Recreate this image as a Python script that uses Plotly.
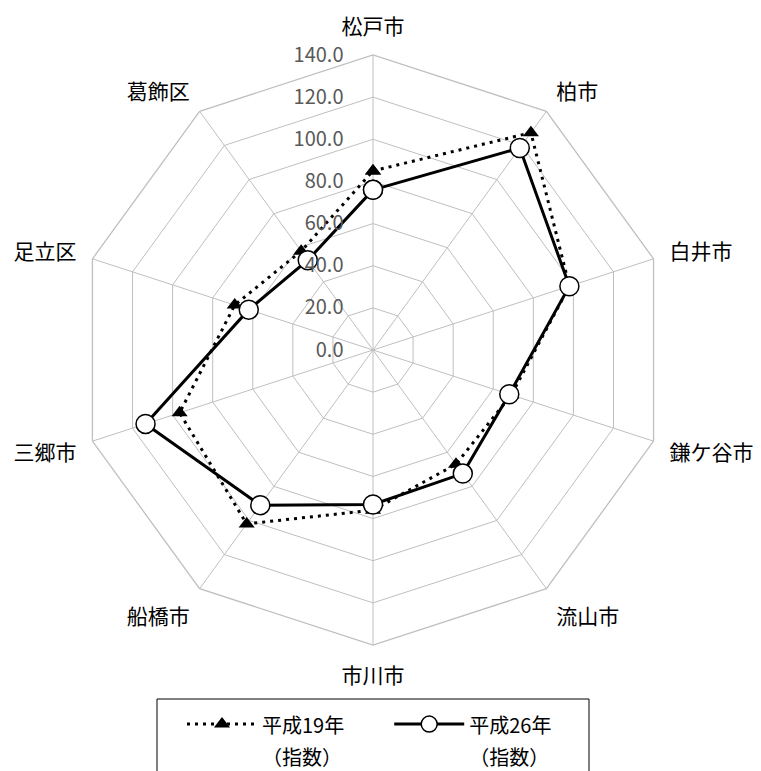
import plotly.graph_objects as go

categories = ["松戸市", "柏市", "白井市", "鎌ケ谷市", "流山市", "市川市", "船橋市", "三郷市", "足立区", "葛飾区"]
h19 = [85, 127.5, 98, 69, 67, 76, 102, 96.5, 69, 58]
h26 = [76, 118.5, 98, 68, 72.5, 73.3, 91, 113.5, 62, 52.7]
tick_vals = [0, 20, 40, 60, 80, 100, 120, 140]
names = ["平成19年", "平成26年"]
name_sub = "（指数）"

FONT = "Noto Sans CJK JP"
GRID = "#bfbfbf"

W, H = 761, 771
OFF = 8  # page body margin
cx, cy, R = 373 - OFF, 350 - OFF, 295


def legend_name(main, pad):
    return (f"<span style='font-size:20px'>{main}{pad}</span><br>"
            f"<span style='font-size:20px'>{name_sub}</span>")


fig = go.Figure()
fig.add_trace(go.Scatterpolar(
    r=h19 + h19[:1], theta=categories + categories[:1],
    mode="lines+markers", name=legend_name(names[0], "\u3000\u3000"),
    line=dict(color="black", width=3, dash="3px,5px"),
    marker=dict(symbol="triangle-up", size=14, color="black"),
))
fig.add_trace(go.Scatterpolar(
    r=h26 + h26[:1], theta=categories + categories[:1],
    mode="lines+markers", name=legend_name(names[1], ""),
    line=dict(color="black", width=3),
    marker=dict(symbol="circle", size=19, color="white", line=dict(color="black", width=1.5)),
))

# legend frame
fig.add_shape(
    type="rect", xref="paper", yref="paper",
    x0=(157 - OFF) / W, x1=(589 - OFF) / W,
    y0=(H - 800) / H, y1=(H - 699 + OFF) / H,
    line=dict(color="black", width=1), fillcolor="rgba(0,0,0,0)", layer="below",
)

fig.update_layout(
    width=W, height=H,
    margin=dict(l=0, r=0, t=0, b=0),
    paper_bgcolor="white",
    font=dict(family=FONT, size=20, color="black"),
    polar=dict(
        domain=dict(x=[(cx - R) / W, (cx + R) / W], y=[(H - cy - R) / H, (H - cy + R) / H]),
        gridshape="linear",
        bgcolor="white",
        radialaxis=dict(
            range=[0, 140], tickvals=tick_vals, tickformat=".1f",
            angle=90, side="counterclockwise", tickangle=90,
            showline=False, gridcolor=GRID, gridwidth=1.3,
            ticks="outside", ticklen=22, tickcolor="rgba(0,0,0,0)",
            tickfont=dict(size=20, color="#595959", family=FONT),
        ),
        angularaxis=dict(
            direction="clockwise", rotation=90,
            showline=True, linecolor=GRID, linewidth=1.3,
            gridcolor=GRID, gridwidth=1.3,
            ticks="outside", ticklen=12, tickcolor="rgba(0,0,0,0)",
            tickfont=dict(size=21, color="black", family=FONT),
        ),
    ),
    showlegend=True,
    legend=dict(
        orientation="h", x=(182 - OFF) / W, xanchor="left", y=(H - 702 + OFF) / H, yanchor="top",
        borderwidth=0, bgcolor="rgba(0,0,0,0)", valign="top",
        font=dict(size=24, family=FONT), itemwidth=70, tracegroupgap=0,
    ),
)

fig.write_html("out.html")
